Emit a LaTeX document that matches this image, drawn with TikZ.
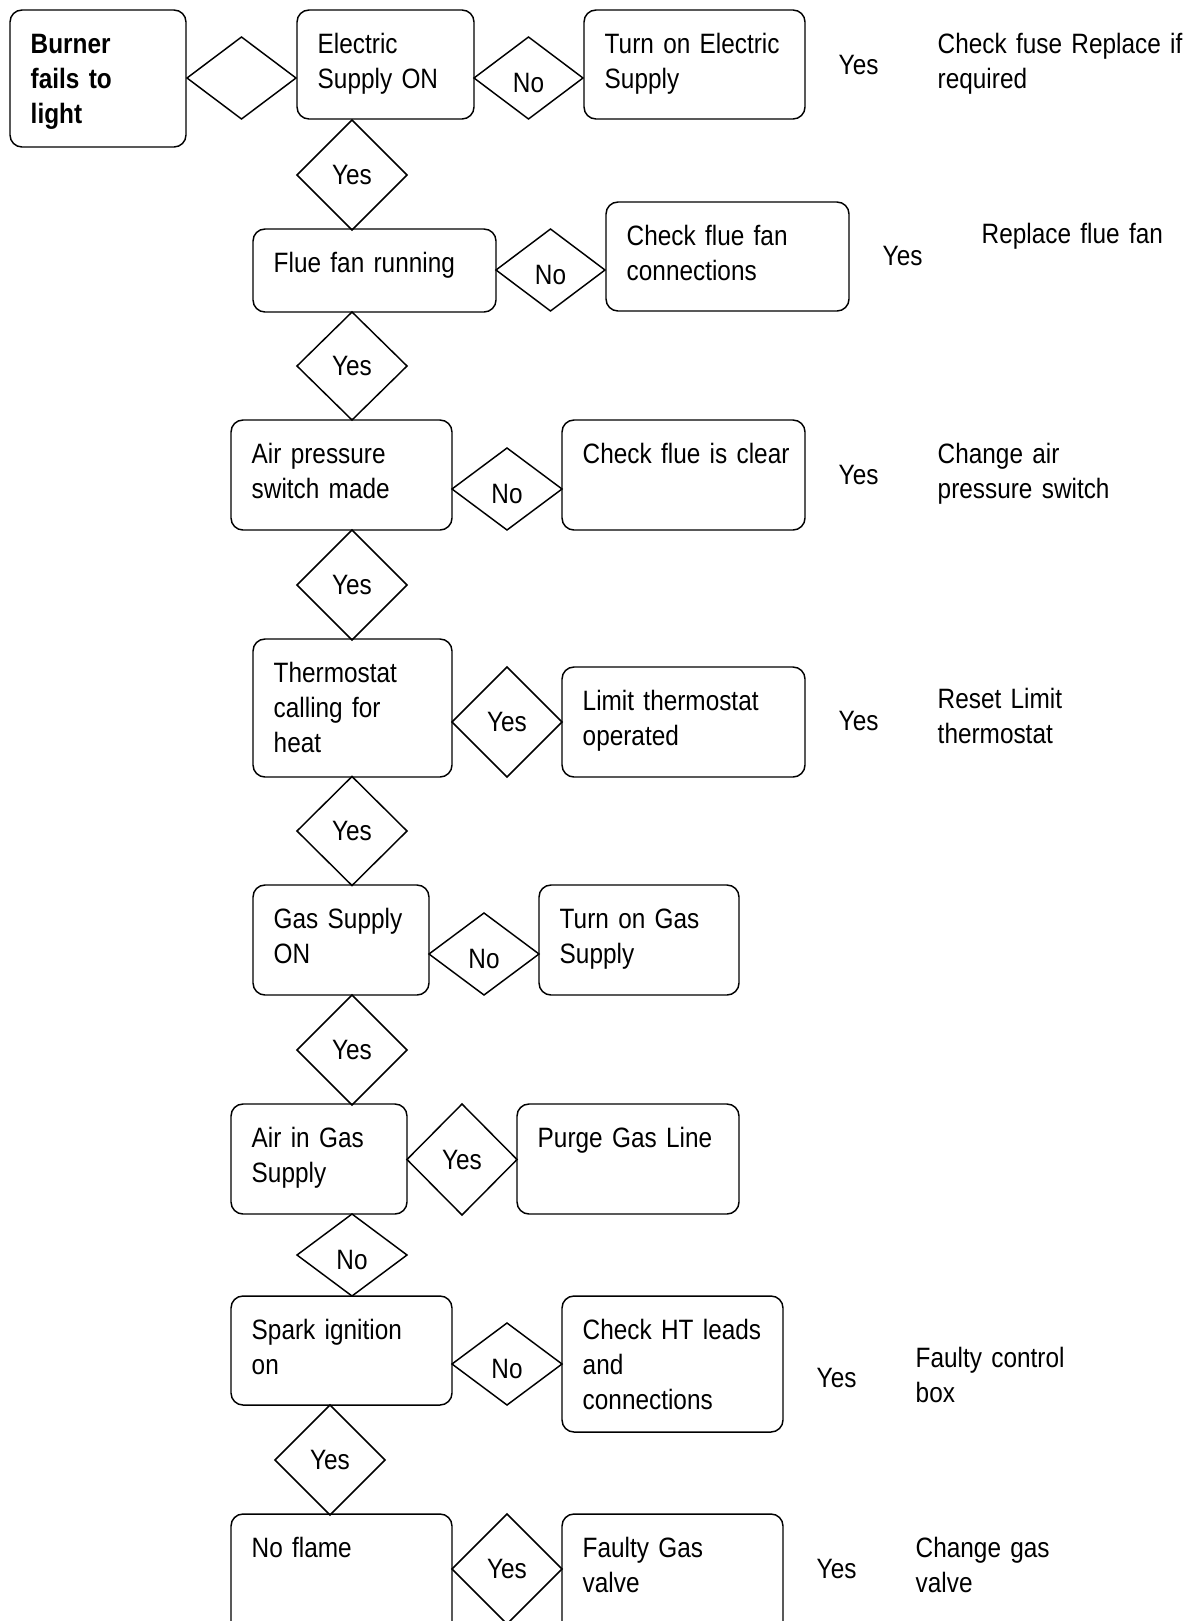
\documentclass[tikz,border=0pt]{standalone}
\usepackage{fontspec}
\setmainfont{Liberation Sans}[FakeStretch=0.87]
\usetikzlibrary{shapes.geometric}

\begin{document}
\begin{tikzpicture}[
  x=0.75pt, y=-0.75pt,
  line width=1.1pt,
  font=\fontsize{21}{26.25}\selectfont,
  box node/.style={draw, rectangle, rounded corners=9pt, anchor=north west,
    inner sep=0pt, outer sep=0pt},
  choice node/.style={draw, diamond, inner sep=0pt, outer sep=0pt},
  yes choice/.style={},
  no choice/.style={text height=21pt, text depth=0pt},
  note node/.style={anchor=base west, inner sep=0pt, text width=300pt, align=left},
]
  \newcommand*{\PxLen}{0.75pt}

  \useasboundingbox (0,0) rectangle (1186,1621);
  \clip (0,0) rectangle (1186,1621);

  % Boxes, left/top/right/bottom/name/text, text sits top left
  \foreach \xa/\ya/\xb/\yb/\nm/\lbl in {
      10/10/186/147/burner/{\bfseries Burner\\fails to\\light},
      297/10/474/119/elec/{Electric\\Supply ON},
      584/10/805/119/turnelec/{Turn on Electric\\Supply},
      253/229/496/312/fan/{Flue fan running},
      606/202/849/311/fanconn/{Check flue fan\\connections},
      231/420/452/530/airsw/{Air pressure\\switch made},
      562/420/805/530/flueclear/{Check flue is clear},
      253/639/452/777/stat/{Thermostat\\calling for\\heat},
      562/667/805/777/limit/{Limit thermostat\\operated},
      253/885/429/995/gas/{Gas Supply\\ON},
      539/885/739/995/turngas/{Turn on Gas\\Supply},
      231/1104/407/1214/airgas/{Air in Gas\\Supply},
      517/1104/739/1214/purge/{Purge Gas Line},
      231/1296/452/1405/spark/{Spark ignition\\on},
      562/1296/783/1432/htleads/{Check HT leads\\and\\connections},
      231/1514/452/1650/noflame/{No flame},
      562/1514/783/1650/gasvalve/{Faulty Gas\\valve}%
  } {
    \node[box node, minimum width={(\xb-\xa)*\PxLen},
      minimum height={(\yb-\ya)*\PxLen}] (\nm) at (\xa,\ya) {};
    \node[note node] (\nm-text) at (\xa+20,\ya+43) {\lbl};
  }

  % Diamonds, centre x/centre y/width/height/style/name/text
  \foreach \cx/\cy/\w/\h/\st/\nm/\lbl in {
      241.5/78/109/82/yes choice/d1/{},
      528.5/78/109/82/no choice/d2/No,
      352/175/110/110/yes choice/d3/Yes,
      550.5/270/109/82/no choice/d4/No,
      352/366/110/108/yes choice/d5/Yes,
      507/489/110/82/no choice/d6/No,
      352/585/110/110/yes choice/d7/Yes,
      507/722/110/110/yes choice/d8/Yes,
      352/831/110/109/yes choice/d9/Yes,
      484/954/110/82/no choice/d10/No,
      352/1050/110/110/yes choice/d11/Yes,
      462/1159.5/110/111/yes choice/d12/Yes,
      352/1255/110/82/no choice/d13/No,
      507/1364/110/82/no choice/d14/No,
      330/1460/110/110/yes choice/d15/Yes,
      507/1569/110/110/yes choice/d16/Yes%
  } {
    \node[choice node, \st, minimum width={\w*\PxLen},
      minimum height={\h*\PxLen}] (\nm) at (\cx,\cy) {\lbl};
  }

  % Loose answers and remedies on the right
  \foreach \xa/\ya/\nm/\lbl in {
      838/74/yes1/Yes,
      882/265/yes2/Yes,
      838/484/yes3/Yes,
      838/730/yes4/Yes,
      816/1387/yes7/Yes,
      816/1578/yes8/Yes,
      937/53/fix1/{Check fuse Replace if\\required},
      981/243/fix2/{Replace flue fan},
      937/463/fix3/{Change air\\pressure switch},
      937/708/fix4/{Reset Limit\\thermostat},
      915/1367/fix7/{Faulty control\\box},
      915/1557/fix8/{Change gas\\valve}%
  } {
    \node[note node] (\nm) at (\xa,\ya) {\lbl};
  }
\end{tikzpicture}
\end{document}
